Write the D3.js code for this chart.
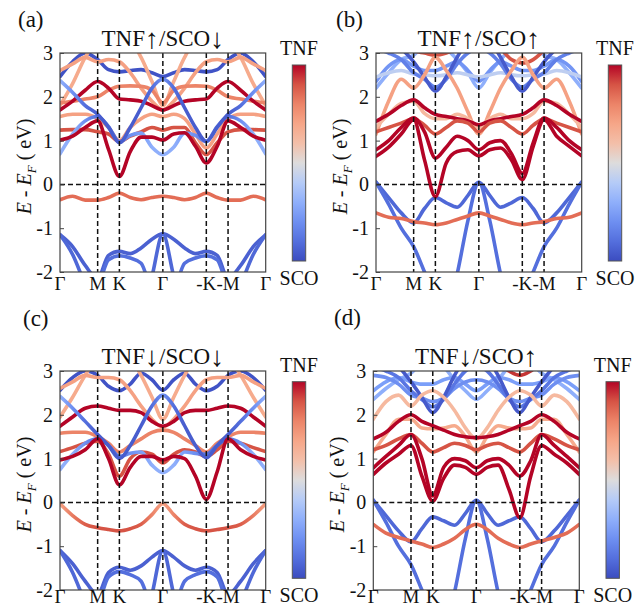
<!DOCTYPE html>
<html lang="en">
<head>
  <meta charset="UTF-8">
  <title>Band structures</title>
  <script src="https://d3js.org/d3.v7.min.js"></script>
  <style>
    body { margin: 0; background: #fff; }
    svg text { font-family: "Liberation Serif", "Times New Roman", serif; fill: #111; }
  </style>
</head>
<body>
<svg id="chart" width="636" height="608"></svg>

<script>
  // k-path: G - M - K - G - (-K) - (-M) - G
  const kGrid = [0, 0.29, 0.58, 0.866, 1.116, 1.366, 1.616, 1.866, 2.116, 2.366,
                 2.616, 2.866, 3.116, 3.366, 3.616, 3.866, 4.156, 4.446, 4.732];
  const kNodes = [0, 0.866, 1.366, 2.366, 3.366, 3.866, 4.732];
  const kLabels = ["Γ", "M", "K", "Γ", "-K", "-M", "Γ"];
  const eTicks = [3, 2, 1, 0, -1, -2];
  const titleParts = [["TNF", "↑", "/SCO", "↓"], ["TNF", "↑", "/SCO", "↑"],
                      ["TNF", "↓", "/SCO", "↓"], ["TNF", "↓", "/SCO", "↑"]];
  const panelTags = ["(a)", "(b)", "(c)", "(d)"];

  // weight profiles (0 = SCO, 1 = TNF) for bands whose character changes along k
  const wLow   = [.3,.3,.2,.1,.1,.1,.2,.25,.3,.3,.3,.25,.2,.1,.1,.1,.2,.3,.3];
  const wCross = [.3,.2,.1,.05,.05,.05,.05,.05,.1,.2,.1,.05,.05,.05,.05,.05,.1,.2,.3];
  const wOcc   = [.72,.82,.88,.9,.9,.9,.9,.88,.8,.72,.8,.88,.9,.9,.9,.9,.88,.82,.72];

  // (a) TNF up / SCO down
  const bandsA = [
    {w: .06, e: [-1.15,-1.42,-1.85,-2.15,-1.62,-1.53,-1.58,-1.45,-1.25,-1.13,-1.25,-1.45,-1.58,-1.53,-1.62,-2.15,-1.85,-1.42,-1.15]},
    {w: .1,  e: [-3,-2.6,-2.4,-2.3,-1.72,-1.63,-1.68,-1.8,-2.5,-3,-2.5,-1.8,-1.68,-1.63,-1.72,-2.3,-2.4,-2.6,-3]},
    {w: .08, e: [-1.15,-1.6,-2.3,-3,-3,-3,-3,-3,-2.1,-1.13,-2.1,-3,-3,-3,-3,-3,-2.3,-1.6,-1.15]},
    {w: .85, e: [-0.35,-0.27,-0.36,-0.36,-0.3,-0.2,-0.3,-0.35,-0.3,-0.27,-0.3,-0.35,-0.3,-0.2,-0.3,-0.36,-0.36,-0.27,-0.35]},
    {w: .02, e: [2.46,2.8,3.0,2.85,2.62,2.57,2.6,2.62,2.55,2.46,2.55,2.62,2.6,2.57,2.62,2.85,3.0,2.8,2.46]},
    {w: .68, e: [1.8,2.3,2.9,3.3,3.4,3.4,3.3,2.9,2.35,1.8,2.35,2.9,3.3,3.4,3.4,3.3,2.9,2.3,1.8]},
    {w: .72, e: [2.6,2.75,2.9,2.8,2.85,2.8,2.55,2.2,1.9,1.7,1.9,2.2,2.55,2.8,2.85,2.8,2.9,2.75,2.6]},
    {w: .8,  e: [1.86,1.9,1.95,2.0,2.15,2.24,2.25,2.24,2.15,1.86,2.15,2.24,2.25,2.24,2.15,2.0,1.95,1.9,1.86]},
    {w: 1,   e: [1.7,1.9,2.15,2.35,2.2,1.95,1.93,1.9,1.8,1.7,1.8,1.9,1.93,1.95,2.2,2.35,2.15,1.9,1.7]},
    {w: .72, e: [1.55,1.6,1.6,1.5,1.3,1.0,1.3,1.5,1.6,1.55,1.6,1.5,1.15,0.83,1.15,1.5,1.6,1.6,1.55]},
    {w: .9,  e: [1.24,1.25,1.25,1.2,1.15,0.98,1.1,1.2,1.3,1.24,1.3,1.3,0.95,0.68,0.95,1.2,1.25,1.25,1.24]},
    {w: wLow, e: [0.7,1.15,1.45,1.55,1.32,0.97,1.12,1.17,0.85,0.68,0.85,1.17,1.12,0.98,1.32,1.55,1.45,1.15,0.7]},
    {w: wCross, e: [2.37,2.1,1.8,1.6,1.3,0.95,1.3,1.75,2.2,2.4,2.2,1.75,1.3,0.98,1.3,1.6,1.8,2.1,2.37]},
    {w: 1,   e: [1.01,1.1,1.3,1.45,0.8,0.18,0.75,1.08,1.08,1.01,1.15,1.18,0.87,0.49,0.87,1.45,1.3,1.1,1.01]}
  ];

  // (b) TNF up / SCO up
  const bandsB = [
    {w: .08, e: [0.05,-0.3,-0.65,-0.88,-0.55,-0.3,-0.42,-0.52,-0.25,0.05,-0.25,-0.52,-0.42,-0.3,-0.55,-0.88,-0.65,-0.3,0.05]},
    {w: .1,  e: [0.05,-0.45,-1.0,-1.42,-2.0,-2.6,-3,-3,-3,-3,-3,-3,-3,-2.6,-2.0,-1.42,-1.0,-0.45,0.05]},
    {w: .1,  e: [-3,-3,-3,-3,-3,-3,-3,-2.05,-0.82,0.05,-0.82,-2.05,-3,-3,-3,-3,-3,-3,-3]},
    {w: .85, e: [-0.65,-0.75,-0.78,-0.85,-0.88,-0.92,-0.88,-0.8,-0.72,-0.65,-0.72,-0.8,-0.88,-0.92,-0.88,-0.85,-0.78,-0.75,-0.65]},
    {w: .3,  e: [2.2,2.55,2.85,2.95,3.2,3.3,3.1,2.85,2.55,2.2,2.55,2.85,3.1,3.3,3.2,2.95,2.85,2.55,2.2]},
    {w: .22, e: [2.35,2.7,2.85,2.7,2.6,2.6,2.7,2.8,2.6,2.35,2.6,2.8,2.7,2.6,2.6,2.7,2.85,2.7,2.35]},
    {w: .42, e: [2.45,2.55,2.6,2.52,2.5,2.48,2.5,2.55,2.5,2.45,2.5,2.55,2.5,2.48,2.5,2.52,2.6,2.55,2.45]},
    {w: .15, e: [3.1,3.0,2.85,2.55,2.4,2.22,2.4,2.75,3.0,3.1,3.0,2.75,2.4,2.22,2.4,2.55,2.85,3.0,3.1]},
    {w: .04, e: [3.4,3.3,3.1,2.8,2.45,2.13,2.45,2.9,3.3,3.5,3.3,2.9,2.45,2.13,2.45,2.8,3.1,3.3,3.4]},
    {w: .9,  e: [3.4,3.3,3.2,3.05,3.0,2.95,3.0,3.1,3.3,3.4,3.3,3.1,2.85,2.77,2.85,3.05,3.2,3.3,3.4]},
    {w: .72, e: [1.15,1.9,2.4,2.2,2.5,2.9,2.6,2.2,1.65,1.15,1.65,2.2,2.6,2.9,2.5,2.2,2.4,1.9,1.15]},
    {w: .62, e: [1.3,1.6,1.85,1.9,1.62,1.5,1.5,1.6,1.5,1.3,1.5,1.6,1.5,1.5,1.62,1.9,1.85,1.6,1.3]},
    {w: 1,   e: [1.44,1.6,1.8,1.93,1.75,1.6,1.55,1.5,1.45,1.36,1.45,1.5,1.55,1.6,1.75,1.93,1.8,1.6,1.44]},
    {w: .9,  e: [1.2,1.3,1.4,1.5,1.35,1.15,1.3,1.45,1.4,1.2,1.4,1.45,1.3,1.15,1.35,1.5,1.4,1.3,1.2]},
    {w: 1,   e: [0.79,1.0,1.3,1.52,1.2,0.6,0.85,1.1,1.0,0.79,0.95,1.0,0.7,0.25,0.95,1.52,1.3,1.0,0.79]},
    {w: 1,   e: [0.64,0.85,1.15,1.48,0.56,-0.28,0.49,0.75,0.79,0.65,0.79,0.83,0.56,0.11,0.87,1.48,1.1,0.87,0.65]}
  ];

  // (c) TNF down / SCO down
  const bandsC = [
    {w: .06, e: [-1.1,-1.4,-1.8,-2.1,-1.6,-1.48,-1.55,-1.45,-1.25,-1.1,-1.25,-1.45,-1.55,-1.48,-1.6,-2.1,-1.8,-1.4,-1.1]},
    {w: .1,  e: [-3,-2.6,-2.4,-2.3,-1.7,-1.58,-1.65,-1.8,-2.5,-3,-2.5,-1.8,-1.65,-1.58,-1.7,-2.3,-2.4,-2.6,-3]},
    {w: .08, e: [-1.1,-1.6,-2.3,-3,-3,-3,-3,-3,-2.1,-1.1,-2.1,-3,-3,-3,-3,-3,-2.3,-1.6,-1.1]},
    {w: wOcc, e: [-0.03,-0.3,-0.5,-0.58,-0.62,-0.65,-0.6,-0.5,-0.28,-0.03,-0.28,-0.5,-0.6,-0.65,-0.62,-0.58,-0.5,-0.3,-0.03]},
    {w: .02, e: [2.56,2.85,3.0,2.9,2.65,2.55,2.7,2.95,2.8,2.56,2.8,2.95,2.7,2.55,2.65,2.9,3.0,2.85,2.56]},
    {w: .68, e: [1.95,2.4,2.9,3.3,3.4,3.4,3.3,2.9,2.4,1.9,2.4,2.9,3.3,3.4,3.4,3.3,2.9,2.4,1.95]},
    {w: .72, e: [2.6,2.75,2.9,2.85,2.85,2.8,2.55,2.2,1.9,1.72,1.9,2.2,2.55,2.8,2.85,2.85,2.9,2.75,2.6]},
    {w: 1,   e: [1.74,1.95,2.15,2.2,2.15,2.1,2.1,2.05,1.85,1.74,1.85,2.05,2.1,2.1,2.15,2.2,2.15,1.95,1.74]},
    {w: .8,  e: [1.58,1.6,1.6,1.5,1.35,1.15,1.3,1.45,1.6,1.65,1.6,1.45,1.3,1.15,1.35,1.5,1.6,1.6,1.58]},
    {w: .9,  e: [1.16,1.25,1.35,1.4,1.1,0.6,1.0,1.15,1.1,0.9,1.1,1.2,1.15,1.05,1.2,1.4,1.35,1.25,1.16]},
    {w: wLow, e: [0.75,1.1,1.35,1.45,1.3,1.05,1.12,1.15,0.85,0.68,0.85,1.15,1.12,1.1,1.3,1.45,1.35,1.1,0.75]},
    {w: wCross, e: [2.42,2.15,1.85,1.55,1.3,1.0,1.3,1.75,2.2,2.45,2.2,1.75,1.3,1.02,1.3,1.55,1.85,2.15,2.42]},
    {w: 1,   e: [0.97,1.05,1.2,1.45,1.0,0.4,0.8,1.05,1.05,0.97,1.05,1.0,0.6,0.07,0.7,1.45,1.2,1.05,0.97]}
  ];

  // (d) TNF down / SCO up
  const bandsD = [
    {w: .08, e: [0.05,-0.3,-0.65,-0.9,-0.6,-0.33,-0.42,-0.52,-0.25,0.05,-0.25,-0.52,-0.42,-0.33,-0.6,-0.9,-0.65,-0.3,0.05]},
    {w: .1,  e: [0.05,-0.45,-1.0,-1.42,-2.0,-2.6,-3,-3,-3,-3,-3,-3,-3,-2.6,-2.0,-1.42,-1.0,-0.45,0.05]},
    {w: .1,  e: [-3,-3,-3,-3,-3,-3,-3,-2.05,-0.82,0.05,-0.82,-2.05,-3,-3,-3,-3,-3,-3,-3]},
    {w: .85, e: [-0.5,-0.7,-0.8,-0.88,-0.95,-1.03,-0.95,-0.82,-0.62,-0.5,-0.62,-0.82,-0.95,-1.03,-0.95,-0.88,-0.8,-0.7,-0.5]},
    {w: .3,  e: [2.35,2.6,2.8,2.95,3.2,3.3,3.1,2.8,2.55,2.35,2.55,2.8,3.1,3.3,3.2,2.95,2.8,2.6,2.35]},
    {w: .25, e: [2.55,2.75,2.85,2.75,2.7,2.7,2.8,2.85,2.7,2.55,2.7,2.85,2.8,2.7,2.7,2.75,2.85,2.75,2.55]},
    {w: .2,  e: [2.9,2.85,2.7,2.45,2.38,2.3,2.38,2.6,2.75,2.8,2.75,2.6,2.38,2.3,2.38,2.45,2.7,2.85,2.9]},
    {w: .12, e: [3.1,3.0,2.85,2.55,2.35,2.18,2.35,2.7,3.0,3.1,3.0,2.7,2.35,2.18,2.35,2.55,2.85,3.0,3.1]},
    {w: .04, e: [3.4,3.3,3.1,2.75,2.4,2.05,2.4,2.9,3.3,3.5,3.3,2.9,2.4,2.05,2.4,2.75,3.1,3.3,3.4]},
    {w: .95, e: [3.4,3.4,3.35,3.3,3.3,3.3,3.3,3.3,3.35,3.4,3.3,3.2,3.0,2.9,3.0,3.2,3.3,3.4,3.4]},
    {w: .62, e: [1.9,2.3,2.45,2.2,2.45,2.55,2.4,2.1,1.7,1.45,1.7,2.1,2.4,2.55,2.45,2.2,2.45,2.3,1.9]},
    {w: .68, e: [1.15,1.55,1.9,1.9,1.7,1.68,1.7,1.75,1.5,1.15,1.5,1.75,1.7,1.68,1.7,1.9,1.9,1.55,1.15]},
    {w: 1,   e: [1.45,1.6,1.85,2.0,1.85,1.75,1.65,1.55,1.5,1.48,1.5,1.55,1.65,1.75,1.85,2.0,1.85,1.6,1.45]},
    {w: .9,  e: [1.2,1.3,1.45,1.55,1.35,1.15,1.25,1.35,1.3,1.2,1.3,1.35,1.25,1.15,1.35,1.55,1.45,1.3,1.2]},
    {w: 1,   e: [0.79,1.05,1.3,1.55,1.0,0.15,0.8,1.0,0.95,0.79,0.95,1.0,0.85,0.6,0.95,1.55,1.3,1.05,0.79]},
    {w: 1,   e: [0.64,0.9,1.1,1.3,0.6,0.03,0.55,0.85,0.8,0.64,0.8,0.85,0.3,-0.35,0.6,1.3,1.1,0.9,0.64]}
  ];

  // Panel geometry (pixels)
  const panels = [
    {id: "a", bands: bandsA, x0: 60,    x1: 265.7, y0: 53,  y1: 272, kLabY: 290, tagX: 18,  tagY: 27,  titleY: 48,  cbX: 292.3, cbY: 65,    cbH: 196},
    {id: "b", bands: bandsB, x0: 376,   x1: 581.7, y0: 53,  y1: 272, kLabY: 290, tagX: 336, tagY: 27,  titleY: 48,  cbX: 608.3, cbY: 65,    cbH: 196},
    {id: "c", bands: bandsC, x0: 60,    x1: 265.7, y0: 371, y1: 590, kLabY: 603, tagX: 23,  tagY: 326, titleY: 366, cbX: 292.3, cbY: 381.7, cbH: 196.6},
    {id: "d", bands: bandsD, x0: 373.3, x1: 579.3, y0: 371, y1: 590, kLabY: 603, tagX: 334, tagY: 325, titleY: 366, cbX: 606,   cbY: 381.7, cbH: 196.6}
  ];

  // matplotlib-like coolwarm
  const coolwarm = d3.scaleLinear()
    .domain([0, .125, .25, .375, .5, .625, .75, .875, 1])
    .range(["#3b4cc0", "#5a78e4", "#7b9ff9", "#aac7fd", "#dddcdc", "#f7b89c", "#f49a7b", "#de614d", "#b40426"])
    .interpolate(d3.interpolateLab);

  const svg = d3.select("#chart");
  const defs = svg.append("defs");
  const kMax = kGrid[kGrid.length - 1];

  panels.forEach((p, pi) => {
    const x = d3.scaleLinear().domain([0, kMax]).range([p.x0, p.x1]);
    const y = d3.scaleLinear().domain([-2, 3]).range([p.y1, p.y0]);
    const g = svg.append("g");

    defs.append("clipPath").attr("id", "clip-" + p.id)
      .append("rect")
      .attr("x", p.x0).attr("y", p.y0)
      .attr("width", p.x1 - p.x0).attr("height", p.y1 - p.y0);

    const line = d3.line()
      .x((d, i) => x(kGrid[i]))
      .y(d => y(d))
      .curve(d3.curveMonotoneX);

    const bandG = g.append("g").attr("clip-path", "url(#clip-" + p.id + ")");
    p.bands.forEach((b, j) => {
      let stroke;
      if (Array.isArray(b.w)) {
        const gid = "band-" + p.id + "-" + j;
        const grad = defs.append("linearGradient").attr("id", gid)
          .attr("gradientUnits", "userSpaceOnUse")
          .attr("x1", x(0)).attr("x2", x(kMax)).attr("y1", 0).attr("y2", 0);
        b.w.forEach((w, i) => {
          grad.append("stop").attr("offset", kGrid[i] / kMax).attr("stop-color", coolwarm(w));
        });
        stroke = "url(#" + gid + ")";
      } else {
        stroke = coolwarm(b.w);
      }
      bandG.append("path")
        .attr("d", line(b.e))
        .attr("fill", "none")
        .attr("stroke", stroke)
        .attr("stroke-width", 3.6)
        .attr("stroke-linecap", "round");
    });

    // high symmetry lines and Fermi level
    g.selectAll(".kline")
      .data(kNodes.slice(1, -1))
      .enter().append("line")
      .attr("x1", d => x(d)).attr("x2", d => x(d))
      .attr("y1", p.y0).attr("y2", p.y1)
      .attr("stroke", "#111").attr("stroke-width", 1.5)
      .attr("stroke-dasharray", "5,3");
    g.append("line")
      .attr("x1", p.x0).attr("x2", p.x1)
      .attr("y1", y(0)).attr("y2", y(0))
      .attr("stroke", "#111").attr("stroke-width", 1.5)
      .attr("stroke-dasharray", "5,3");

    // frame
    g.append("rect")
      .attr("x", p.x0).attr("y", p.y0)
      .attr("width", p.x1 - p.x0).attr("height", p.y1 - p.y0)
      .attr("fill", "none").attr("stroke", "#444").attr("stroke-width", 1.2);

    // y axis, ticks pointing inward
    const yAxis = d3.axisLeft(y)
      .tickValues(eTicks)
      .tickSize(-4)
      .tickPadding(7)
      .tickFormat(d => d < 0 ? "-" + Math.abs(d) : String(d));
    const ya = g.append("g").attr("transform", "translate(" + p.x0 + ",0)").call(yAxis);
    ya.select(".domain").remove();
    ya.selectAll("line").attr("stroke", "#444");
    ya.selectAll("text")
      .attr("font-family", "Liberation Serif, serif")
      .attr("font-size", 20).attr("fill", "#111");

    // k labels
    g.selectAll(".klab")
      .data(kNodes)
      .enter().append("text")
      .attr("x", (d, i) => x(d))
      .attr("y", p.kLabY)
      .attr("text-anchor", "middle")
      .attr("font-size", 19)
      .text((d, i) => kLabels[i]);

    // y label
    const yl = g.append("text")
      .attr("transform", "translate(" + (p.x0 - 29) + "," + ((p.y0 + p.y1) / 2 + 4) + ") rotate(-90)")
      .attr("text-anchor", "middle")
      .attr("font-size", 20);
    yl.append("tspan").attr("font-style", "italic").text("E");
    yl.append("tspan").text(" - ");
    yl.append("tspan").attr("font-style", "italic").text("E");
    yl.append("tspan").attr("font-style", "italic").attr("font-size", 13).attr("dy", 5).text("F");
    yl.append("tspan").attr("dy", -5).text(" ( eV)");

    // title (taller arrows) and panel tag
    const tt = g.append("text")
      .attr("x", (p.x0 + p.x1) / 2).attr("y", p.titleY)
      .attr("text-anchor", "middle")
      .attr("font-size", 23);
    titleParts[pi].forEach(s => {
      const isArrow = s === "↑" || s === "↓";
      tt.append("tspan")
        .attr("font-size", isArrow ? 28 : 23)
        .attr("dy", isArrow ? 2 : -2)
        .text(s);
    });
    g.append("text")
      .attr("x", p.tagX).attr("y", p.tagY)
      .attr("font-size", 23)
      .text(panelTags[pi]);

    // colour bar
    const cbId = "cb-" + p.id;
    const cbGrad = defs.append("linearGradient").attr("id", cbId)
      .attr("x1", 0).attr("x2", 0).attr("y1", 1).attr("y2", 0);
    d3.range(0, 1.0001, 0.1).forEach(t => {
      cbGrad.append("stop").attr("offset", t).attr("stop-color", coolwarm(t));
    });
    g.append("rect")
      .attr("x", p.cbX).attr("y", p.cbY)
      .attr("width", 13.4).attr("height", p.cbH)
      .attr("fill", "url(#" + cbId + ")")
      .attr("stroke", "#555").attr("stroke-width", 1);
    g.append("text")
      .attr("x", p.cbX + 6.7).attr("y", p.cbY - 10)
      .attr("text-anchor", "middle").attr("font-size", 20)
      .text("TNF");
    g.append("text")
      .attr("x", p.cbX + 6.7).attr("y", p.cbY + p.cbH + 24)
      .attr("text-anchor", "middle").attr("font-size", 20)
      .text("SCO");
  });
</script>
</body>
</html>
